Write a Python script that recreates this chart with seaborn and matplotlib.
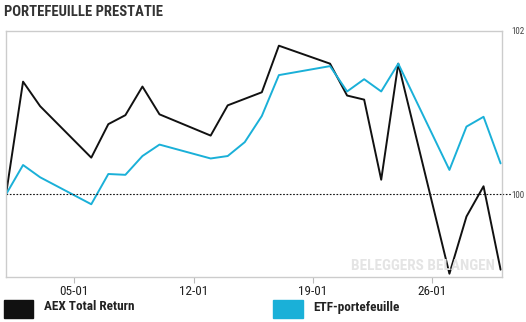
import matplotlib
matplotlib.use("Agg")
import matplotlib.pyplot as plt
from matplotlib.lines import Line2D
from matplotlib.patches import Rectangle
from matplotlib import font_manager
import seaborn as sns
import pandas as pd

dates = ["2015-01-01", "2015-01-02", "2015-01-03", "2015-01-06", "2015-01-07", "2015-01-08",
         "2015-01-09", "2015-01-10", "2015-01-13", "2015-01-14", "2015-01-15", "2015-01-16",
         "2015-01-17", "2015-01-20", "2015-01-21", "2015-01-22", "2015-01-23", "2015-01-24",
         "2015-01-27", "2015-01-28", "2015-01-29", "2015-01-30"]
aex = [100.0, 101.38, 101.08, 100.45, 100.86, 100.97, 101.32, 100.98, 100.72, 101.09, 101.17,
       101.25, 101.82, 101.60, 101.21, 101.16, 100.18, 101.60, 99.03, 99.73, 100.10, 99.08]
etf = [100.0, 100.36, 100.21, 99.88, 100.25, 100.24, 100.47, 100.61, 100.44, 100.47, 100.64,
       100.96, 101.46, 101.57, 101.26, 101.41, 101.26, 101.60, 100.30, 100.83, 100.95, 100.38]
series_names = ["AEX Total Return", "ETF-portefeuille"]
tick_dates = ["2015-01-05", "2015-01-12", "2015-01-19", "2015-01-26"]
tick_labels = ["05-01", "12-01", "19-01", "26-01"]
y_ticks = [100, 102]

colors = {"AEX Total Return": "#111111", "ETF-portefeuille": "#1ab0d8"}

df = pd.DataFrame({
    "date": pd.to_datetime(dates * 2),
    "value": aex + etf,
    "series": [series_names[0]] * len(aex) + [series_names[1]] * len(etf),
})

sns.set_style("white")
names = {f.name for f in font_manager.fontManager.ttflist}
narrow = None
for cand in ["Liberation Sans Narrow", "Roboto Condensed", "Open Sans Condensed", "DejaVu Sans"]:
    if cand in names:
        narrow = cand
        break
plt.rcParams["font.family"] = [narrow, "DejaVu Sans"]
cond = dict(family=[narrow, "DejaVu Sans"], stretch="condensed")

fig = plt.figure(figsize=(5.26, 3.22), dpi=100)
ax = fig.add_axes([0.0114, 0.1398, 0.9430, 0.7640])

sns.lineplot(data=df, x="date", y="value", hue="series", palette=colors, ax=ax,
             linewidth=1.4, legend=False)

ax.set_xlim(pd.Timestamp("2015-01-01"), pd.Timestamp("2015-01-30") + pd.Timedelta(hours=2))
ax.set_ylim(98.99, 102.0)
ax.axhline(100, color="#111111", linestyle=(0, (1.5, 1.5)), linewidth=0.8)
ax.add_line(Line2D([1.0, 1.02], [100, 100], transform=ax.get_yaxis_transform(),
                   color="#111111", linestyle=(0, (1.5, 1.5)), linewidth=0.8, clip_on=False))

ax.set_xticks(pd.to_datetime(tick_dates))
ax.set_xticklabels(tick_labels, fontsize=9.5, color="#222222", **cond)
ax.yaxis.tick_right()
ax.set_yticks(y_ticks)
ax.set_yticklabels([str(v) for v in y_ticks], fontsize=6.5, color="#444444", **cond)
ax.tick_params(axis="y", length=0, pad=7)
ax.tick_params(axis="x", length=4, width=0.8, color="#bbbbbb", pad=2, direction="out")
ax.xaxis.set_ticks_position("bottom")
ax.set_xlabel("")
ax.set_ylabel("")
for s in ax.spines.values():
    s.set_color("#cccccc")
    s.set_linewidth(1.0)

ax.text(0.985, 0.015, "BELEGGERS BELANGEN", transform=ax.transAxes, ha="right", va="bottom",
        fontsize=11, color="#e4e4e4", fontweight="bold", **cond)

fig.text(4 / 526, 1 - 12 / 322, "PORTEFEUILLE PRESTATIE", fontsize=10.5, fontweight="bold",
         color="#333333", va="center", ha="left", **cond)

# legend
fig.patches.append(Rectangle((4 / 526, 1 - 318 / 322), 29 / 526, 18 / 322,
                             transform=fig.transFigure, color=colors[series_names[0]]))
fig.text(44 / 526, 1 - 307 / 322, series_names[0], fontsize=9.5, fontweight="bold",
         color="#222222", va="center", **cond)
fig.patches.append(Rectangle((273 / 526, 1 - 318 / 322), 30 / 526, 18 / 322,
                             transform=fig.transFigure, color=colors[series_names[1]]))
fig.text(313 / 526, 1 - 307 / 322, series_names[1], fontsize=9.5, fontweight="bold",
         color="#222222", va="center", **cond)

fig.savefig("out.png", dpi=100)
